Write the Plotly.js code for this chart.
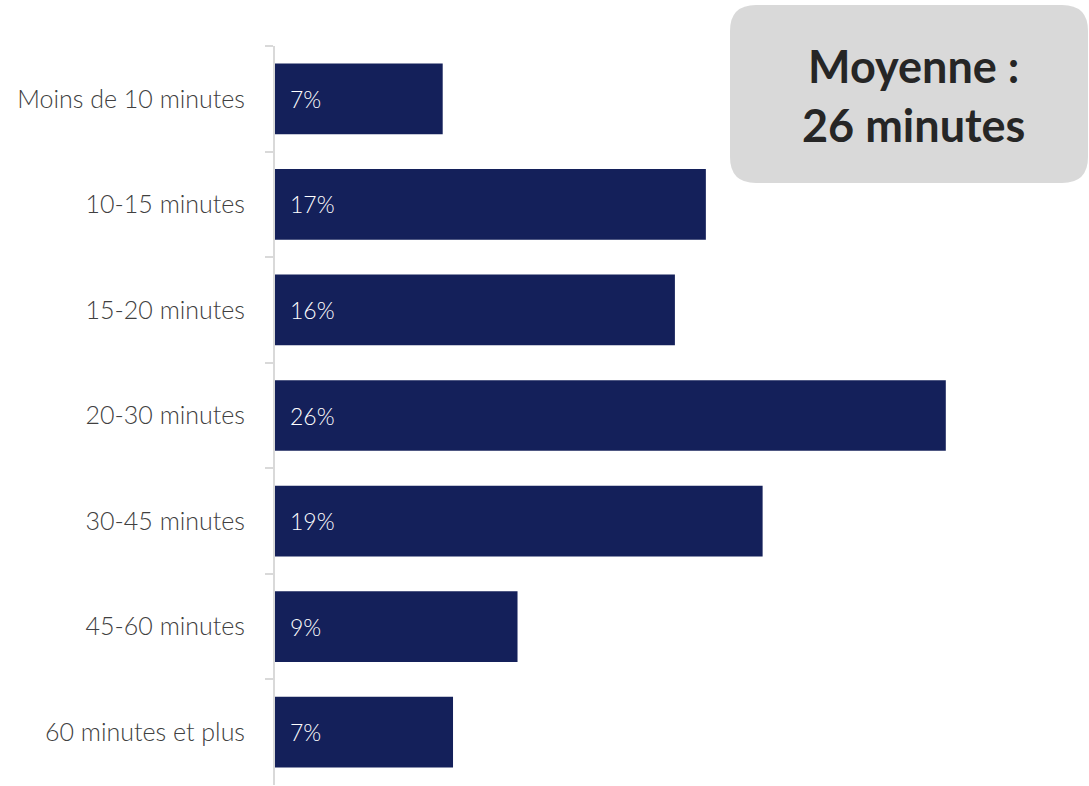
<!DOCTYPE html>
<html>
<head>
<meta charset="utf-8">
<script src="https://cdn.plot.ly/plotly-3.0.1.min.js"></script>
<style>html,body{margin:0;padding:0;background:#fff;}#chart{width:1089px;height:786px;}</style>
</head>
<body>
<div id="chart"></div>
<script>
const categories = ["Moins de 10 minutes", "10-15 minutes", "15-20 minutes", "20-30 minutes", "30-45 minutes", "45-60 minutes", "60 minutes et plus"];
const shares = [6.5, 16.7, 15.5, 26.0, 18.9, 9.4, 6.9];
const shareLabels = ["7%", "17%", "16%", "26%", "19%", "9%", "7%"];
const boxText = "Moyenne :<br>26 minutes";

const W = 1089, H = 786;
const ml = 275, mr = 27, mt = 46, mb = 1;
const plotW = W - ml - mr, plotH = H - mt - mb;

const trace = {
  type: "bar",
  orientation: "h",
  y: categories,
  x: shares,
  marker: {color: "#14205A", line: {width: 0}},
  hoverinfo: "skip"
};

const annotations = categories.map((c, i) => ({
  x: 0, y: c, xref: "x", yref: "y",
  text: shareLabels[i], showarrow: false,
  xanchor: "left", yanchor: "middle", xshift: 13,
  font: {family: "Lato", size: 23, color: "#ffffff", weight: 300}
}));

// box position in paper coordinates
const boxLeftPx = 730, boxTopPx = 5, boxW = 358, boxH = 178, r = 26;
const ax = (boxLeftPx - ml) / plotW;
const ay = (H - mb - boxTopPx) / plotH;
const path = `M ${r},0 L ${boxW - r},0 Q ${boxW},0 ${boxW},${-r} L ${boxW},${-(boxH - r)} Q ${boxW},${-boxH} ${boxW - r},${-boxH} L ${r},${-boxH} Q 0,${-boxH} 0,${-(boxH - r)} L 0,${-r} Q 0,0 ${r},0 Z`;

annotations.push({
  xref: "paper", yref: "paper",
  x: (913 - ml) / plotW,
  y: (H - mb - (boxTopPx + boxH / 2 + 2)) / plotH,
  text: boxText, showarrow: false,
  xanchor: "center", yanchor: "middle", align: "center",
  font: {family: "Lato", size: 45, color: "#262626", weight: 700}
});

const layout = {
  width: W, height: H,
  margin: {l: ml, r: mr, t: mt, b: mb, pad: 0},
  paper_bgcolor: "#ffffff", plot_bgcolor: "#ffffff",
  bargap: 0.33,
  showlegend: false,
  xaxis: {range: [0, plotW / 25.8], visible: false, fixedrange: true},
  yaxis: {
    type: "category", autorange: "reversed",
    showgrid: false, zeroline: false,
    showline: true, linecolor: "#d9d9d9", linewidth: 2,
    ticks: "outside", tickson: "boundaries", ticklen: 8, tickcolor: "#d9d9d9", tickwidth: 2,
    ticklabelstandoff: 23,
    tickfont: {family: "Lato", size: 25, color: "#404040", weight: 300}
  },
  shapes: [{
    type: "path", xref: "paper", yref: "paper",
    xsizemode: "pixel", ysizemode: "pixel",
    xanchor: ax, yanchor: ay,
    path: path, fillcolor: "#d9d9d9", line: {width: 0}, layer: "below"
  }],
  annotations: annotations
};

Plotly.newPlot("chart", [trace], layout, {displayModeBar: false, staticPlot: true});
</script>
</body>
</html>
